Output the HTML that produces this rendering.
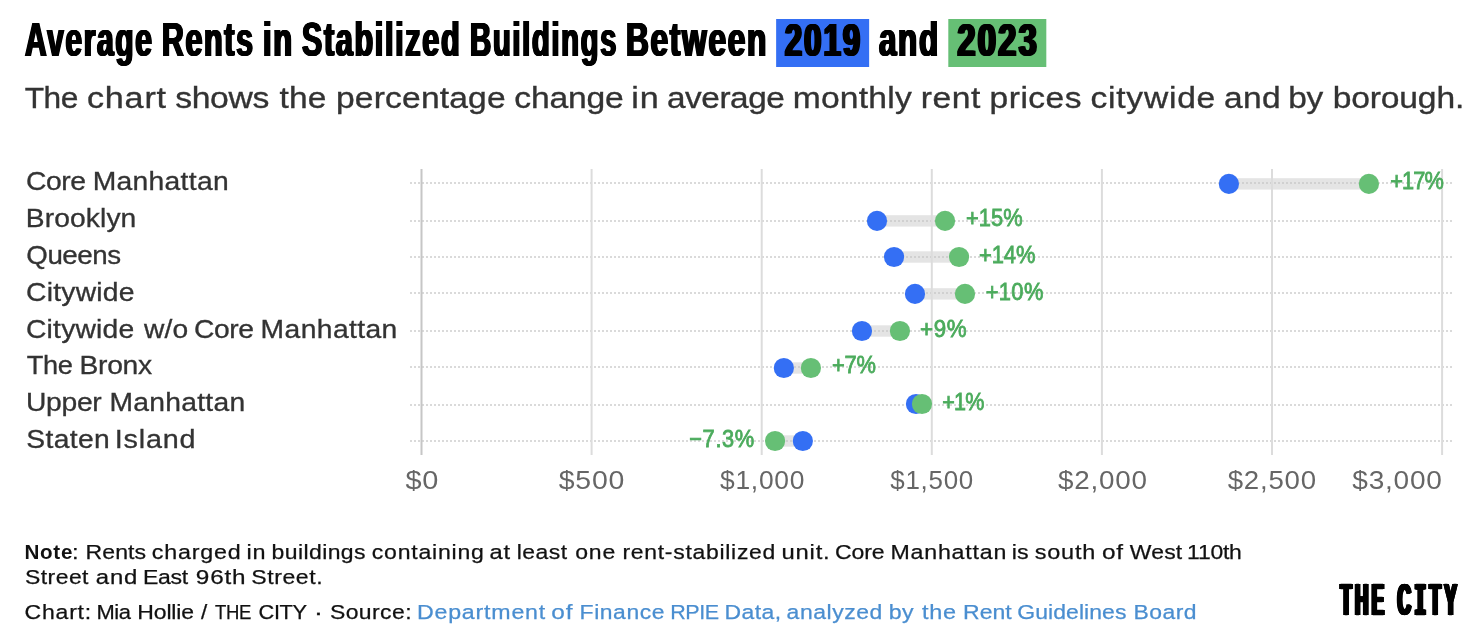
<!DOCTYPE html>
<html lang="en">
<head>
<meta charset="utf-8">
<title>Average Rents in Stabilized Buildings Between 2019 and 2023</title>
<style>
html,body{margin:0;padding:0;background:#fff;overflow:hidden}
body{width:1482px;height:632px}
.page{position:relative;width:1482px;height:632px;overflow:hidden;background:#fff;font-family:'Liberation Sans', sans-serif}
h1,p,div,ul,li{margin:0;padding:0;font-weight:normal;list-style:none}
.ln{position:absolute;left:0;top:0;white-space:nowrap}
.w{display:inline-block;transform-origin:0 0;font-weight:inherit;text-decoration:none}
b.w{font-weight:normal}
b.nb{font-weight:bold}
.hl{display:inline-block;vertical-align:top;transform-origin:0 0;color:inherit}
.b19{background:#346ff4}
.b23{background:#66bf75}
.plot{position:absolute;left:0;top:0}
.slab{font-family:'Liberation Mono',monospace;font-size:1.045em}
a.src{text-decoration:none;color:#4a8ed0}
.t{font-family:'Liberation Sans', sans-serif;font-weight:bold;font-size:48px;line-height:48px;text-shadow:-0.75px 0 0 #000,0.75px 0 0 #000,-1.5px 0 0 #000,1.5px 0 0 #000;color:#000}
.td{font-family:'Liberation Sans', sans-serif;font-weight:bold;font-size:46px;line-height:48px;text-shadow:-1px 0 0 #000,1px 0 0 #000,-2px 0 0 #000,2px 0 0 #000;color:#000}
.s{font-family:'Liberation Sans', sans-serif;font-size:30px;line-height:30px;-webkit-text-stroke:0.35px;color:#333333}
.l{font-family:'Liberation Sans', sans-serif;font-size:25px;line-height:25px;-webkit-text-stroke:0.3px;color:#333333}
.v{font-family:'Liberation Sans', sans-serif;font-size:23.8px;line-height:25px;-webkit-text-stroke:0.8px;color:#4bab5c}
.x{font-family:'Liberation Sans', sans-serif;font-size:25px;line-height:25px;color:#666666}
.n{font-family:'Liberation Sans', sans-serif;font-size:20.5px;line-height:20.5px;-webkit-text-stroke:0.25px;color:#111111}
.nb{font-family:'Liberation Sans', sans-serif;font-weight:bold;font-size:20.5px;line-height:20.5px;-webkit-text-stroke:0;color:#111111}
.k{font-family:'Liberation Sans', sans-serif;font-size:20.5px;line-height:20.5px;-webkit-text-stroke:0.25px;color:#4a8ed0}
.g{font-family:'Liberation Sans', sans-serif;font-weight:bold;font-size:44px;line-height:44px;text-shadow:-1px 0 0 #000,1px 0 0 #000,-2px 0 0 #000,2px 0 0 #000,-3px 0 0 #000,3px 0 0 #000,-3.5px 0 0 #000,3.5px 0 0 #000;-webkit-text-stroke:0.5px;color:#000}
</style>
</head>
<body>
<main class="page">
<h1 class="ln t"><span class="w t" style="letter-spacing:2.6px;transform:matrix(0.6244,0,0,1,24.96,16.00)">Average</span> <span class="w t" style="letter-spacing:2.6px;transform:matrix(0.6339,0,0,1,-57.13,16.00)">Rents</span> <span class="w t" style="letter-spacing:2.6px;transform:matrix(0.6429,0,0,1,-116.05,16.00)">in</span> <span class="w t" style="letter-spacing:2.6px;transform:matrix(0.6376,0,0,1,-138.12,16.00)">Stabilized</span> <span class="w t" style="letter-spacing:2.6px;transform:matrix(0.6116,0,0,1,-233.99,16.00)">Buildings</span> <span class="w t" style="letter-spacing:2.6px;transform:matrix(0.6598,0,0,1,-333.08,16.00)">Between</span> <mark class="hl b19" style="width:93px;height:48px;transform:translate(-411.86px,19.00px)"><span class="w td" style="letter-spacing:3.2px;transform:matrix(0.6732,0,0,1,8.64,-3.00)">2019</span></mark> <span class="w t" style="letter-spacing:2.6px;transform:matrix(0.6546,0,0,1,-415.10,16.00)">and</span> <mark class="hl b23" style="width:98px;height:48px;transform:translate(-452.69px,19.00px)"><span class="w td" style="letter-spacing:3.2px;transform:matrix(0.7095,0,0,1,9.05,-3.00)">2023</span></mark></h1>
<p class="ln s"><span class="w s" style="letter-spacing:-0.4px;transform:matrix(1.0558,0,0,1,24.67,83.00)">The</span> <span class="w s" style="letter-spacing:0.7px;transform:matrix(1.1387,0,0,1,27.92,83.00)">chart</span> <span class="w s" style="letter-spacing:-0.27px;transform:matrix(1.1222,0,0,1,38.17,83.00)">shows</span> <span class="w s" style="letter-spacing:0.19px;transform:matrix(1.1166,0,0,1,50.50,83.00)">the</span> <span class="w s" style="letter-spacing:0.16px;transform:matrix(1.1193,0,0,1,55.99,83.00)">percentage</span> <span class="w s" style="letter-spacing:-0.18px;transform:matrix(1.1213,0,0,1,74.37,83.00)">change</span> <span class="w s" style="letter-spacing:0.7px;transform:matrix(1.1366,0,0,1,85.31,83.00)">in</span> <span class="w s" style="letter-spacing:-0.4px;transform:matrix(1.1113,0,0,1,88.00,83.00)">average</span> <span class="w s" style="letter-spacing:0.21px;transform:matrix(1.1198,0,0,1,99.68,83.00)">monthly</span> <span class="w s" style="letter-spacing:0.51px;transform:matrix(1.1204,0,0,1,112.82,83.00)">rent</span> <span class="w s" style="letter-spacing:0.46px;transform:matrix(1.1172,0,0,1,119.55,83.00)">prices</span> <span class="w s" style="letter-spacing:0.7px;transform:matrix(1.1187,0,0,1,129.44,83.00)">citywide</span> <span class="w s" style="letter-spacing:0.3px;transform:matrix(1.1167,0,0,1,141.99,83.00)">and</span> <span class="w s" style="letter-spacing:-0.18px;transform:matrix(1.1133,0,0,1,147.15,83.00)">by</span> <span class="w s" style="letter-spacing:-0.17px;transform:matrix(1.1204,0,0,1,151.86,83.00)">borough.</span></p>
<div class="chart">
<svg class="plot" width="1482" height="632" viewBox="0 0 1482 632" aria-hidden="true">
<g class="bars" fill="#e4e4e4">
<rect x="1228.9" y="178.2" width="140.0" height="11.4"/>
<rect x="877.0" y="215.2" width="68.0" height="11.4"/>
<rect x="894.0" y="251.3" width="65.0" height="11.4"/>
<rect x="915.0" y="288.2" width="50.0" height="11.4"/>
<rect x="862.0" y="325.3" width="38.0" height="11.4"/>
<rect x="783.9" y="362.3" width="27.0" height="11.4"/>
<rect x="916.0" y="398.3" width="6.0" height="11.4"/>
<rect x="775.1" y="435.3" width="27.8" height="11.4"/>
</g>
<g class="hgrid" stroke="#c4c4c4" stroke-opacity="0.63" stroke-width="2" stroke-dasharray="2 2" shape-rendering="crispEdges">
<line x1="410" x2="1452" y1="183" y2="183"/>
<line x1="410" x2="1452" y1="221" y2="221"/>
<line x1="410" x2="1452" y1="257" y2="257"/>
<line x1="410" x2="1452" y1="293" y2="293"/>
<line x1="410" x2="1452" y1="331" y2="331"/>
<line x1="410" x2="1452" y1="367" y2="367"/>
<line x1="410" x2="1452" y1="405" y2="405"/>
<line x1="410" x2="1452" y1="441" y2="441"/>
</g>
<g class="vgrid" fill="#dcdcdc">
<rect x="420.50" y="169" width="2" height="286" fill="#c6c6c6"/>
<rect x="590.60" y="169" width="2" height="286"/>
<rect x="760.70" y="169" width="2" height="286"/>
<rect x="930.80" y="169" width="2" height="286"/>
<rect x="1100.90" y="169" width="2" height="286"/>
<rect x="1271.00" y="169" width="2" height="286"/>
<rect x="1441.10" y="169" width="2" height="286"/>
</g>
<g class="dots">
<circle cx="1228.90" cy="183.9" r="10.1" fill="#346ff4"/><circle cx="1368.90" cy="183.9" r="10.1" fill="#66bf75"/>
<circle cx="877.00" cy="220.9" r="10.1" fill="#346ff4"/><circle cx="945.05" cy="220.9" r="10.1" fill="#66bf75"/>
<circle cx="894.05" cy="257.0" r="10.1" fill="#346ff4"/><circle cx="959.06" cy="257.0" r="10.1" fill="#66bf75"/>
<circle cx="915.00" cy="293.9" r="10.1" fill="#346ff4"/><circle cx="965.00" cy="293.9" r="10.1" fill="#66bf75"/>
<circle cx="861.96" cy="331.0" r="10.1" fill="#346ff4"/><circle cx="899.94" cy="331.0" r="10.1" fill="#66bf75"/>
<circle cx="783.86" cy="368.0" r="10.1" fill="#346ff4"/><circle cx="810.90" cy="368.0" r="10.1" fill="#66bf75"/>
<circle cx="916.00" cy="404.0" r="10.1" fill="#346ff4"/><circle cx="922.00" cy="404.0" r="10.1" fill="#66bf75"/>
<circle cx="802.85" cy="441.0" r="10.1" fill="#346ff4"/><circle cx="775.07" cy="441.0" r="10.1" fill="#66bf75"/>
</g>
</svg>
<ul class="rows">
<li class="ln l"><span class="w l" style="letter-spacing:-0.4px;transform:matrix(1.1310,0,0,1,25.99,169.00)">Core</span> <span class="w l" style="letter-spacing:0.26px;transform:matrix(1.1306,0,0,1,32.69,169.00)">Manhattan</span> <b class="w v" style="letter-spacing:-0.9px;transform:matrix(0.9126,0,0,1,1203.23,168.00)">+17%</b></li>
<li class="ln l"><span class="w l" style="letter-spacing:0.07px;transform:matrix(1.1300,0,0,1,25.84,206.00)">Brooklyn</span> <b class="w v" style="letter-spacing:0.1px;transform:matrix(0.9169,0,0,1,861.03,205.00)">+15%</b></li>
<li class="ln l"><span class="w l" style="letter-spacing:-0.4px;transform:matrix(1.1081,0,0,1,26.29,243.00)">Queens</span> <b class="w v" style="letter-spacing:-0.08px;transform:matrix(0.9200,0,0,1,886.98,242.00)">+14%</b></li>
<li class="ln l"><span class="w l" style="letter-spacing:0.22px;transform:matrix(1.1307,0,0,1,25.99,280.00)">Citywide</span> <b class="w v" style="letter-spacing:0.39px;transform:matrix(0.9187,0,0,1,882.72,279.00)">+10%</b></li>
<li class="ln l"><span class="w l" style="letter-spacing:0.18px;transform:matrix(1.1305,0,0,1,25.99,317.00)">Citywide</span> <span class="w l" style="letter-spacing:0.21px;transform:matrix(1.1277,0,0,1,40.91,317.00)">w/o</span> <span class="w l" style="letter-spacing:-0.4px;transform:matrix(1.1291,0,0,1,45.01,317.00)">Core</span> <span class="w l" style="letter-spacing:0.35px;transform:matrix(1.1302,0,0,1,51.62,317.00)">Manhattan</span> <b class="w v" style="letter-spacing:0.7px;transform:matrix(0.9392,0,0,1,583.07,316.00)">+9%</b></li>
<li class="ln l"><span class="w l" style="letter-spacing:-0.4px;transform:matrix(1.0871,0,0,1,26.86,353.00)">The</span> <span class="w l" style="letter-spacing:-0.3px;transform:matrix(1.1306,0,0,1,30.59,353.00)">Bronx</span> <b class="w v" style="letter-spacing:-0.18px;transform:matrix(0.9176,0,0,1,711.90,352.00)">+7%</b></li>
<li class="ln l"><span class="w l" style="letter-spacing:-0.26px;transform:matrix(1.1292,0,0,1,26.02,390.00)">Upper</span> <span class="w l" style="letter-spacing:0.25px;transform:matrix(1.1298,0,0,1,35.39,390.00)">Manhattan</span> <b class="w v" style="letter-spacing:-0.9px;transform:matrix(0.9039,0,0,1,741.23,389.00)">+1%</b></li>
<li class="ln l"><span class="w l" style="letter-spacing:0.33px;transform:matrix(1.1287,0,0,1,26.27,427.00)">Staten</span> <span class="w l" style="letter-spacing:0.7px;transform:matrix(1.1504,0,0,1,33.79,427.00)">Island</span> <b class="w v" style="letter-spacing:0.67px;transform:matrix(0.9190,0,0,1,530.22,426.00)">−7.3%</b></li>
</ul>
<div class="ln x"><span class="w x" style="letter-spacing:0.7px;transform:matrix(1.1560,0,0,1,405.41,468.00)">$0</span> <span class="w x" style="letter-spacing:0.7px;transform:matrix(1.1381,0,0,1,522.74,468.00)">$500</span> <span class="w x" style="letter-spacing:0.7px;transform:matrix(1.0552,0,0,1,617.99,468.00)">$1,000</span> <span class="w x" style="letter-spacing:0.7px;transform:matrix(1.0375,0,0,1,701.27,468.00)">$1,500</span> <span class="w x" style="letter-spacing:0.7px;transform:matrix(1.1124,0,0,1,780.93,468.00)">$2,000</span> <span class="w x" style="letter-spacing:0.7px;transform:matrix(1.1048,0,0,1,863.70,468.00)">$2,500</span> <span class="w x" style="letter-spacing:0.7px;transform:matrix(1.1213,0,0,1,900.27,468.00)">$3,000</span></div>
</div>
<p class="ln n"><b class="w nb" style="letter-spacing:0.7px;transform:matrix(1.0055,0,0,1,24.44,542.00)">Note</b><span class="w n" style="transform:matrix(1.1556,0,0,1,23.92,542.00)">:</span> <span class="w n" style="letter-spacing:0.05px;transform:matrix(1.1243,0,0,1,25.55,542.00)">Rents</span> <span class="w n" style="letter-spacing:0.7px;transform:matrix(1.1344,0,0,1,32.77,542.00)">charged</span> <span class="w n" style="letter-spacing:0.7px;transform:matrix(1.1439,0,0,1,42.40,542.00)">in</span> <span class="w n" style="letter-spacing:0.38px;transform:matrix(1.1207,0,0,1,44.47,542.00)">buildings</span> <span class="w n" style="letter-spacing:0.7px;transform:matrix(1.1243,0,0,1,54.78,542.00)">containing</span> <span class="w n" style="letter-spacing:0.7px;transform:matrix(1.1588,0,0,1,66.38,542.00)">at</span> <span class="w n" style="letter-spacing:0.48px;transform:matrix(1.1182,0,0,1,69.65,542.00)">least</span> <span class="w n" style="letter-spacing:0.68px;transform:matrix(1.1235,0,0,1,76.30,542.00)">one</span> <span class="w n" style="letter-spacing:0.65px;transform:matrix(1.1188,0,0,1,81.39,542.00)">rent-stabilized</span> <span class="w n" style="letter-spacing:0.7px;transform:matrix(1.1610,0,0,1,97.46,542.00)">unit.</span> <span class="w n" style="letter-spacing:-0.11px;transform:matrix(1.1243,0,0,1,102.93,542.00)">Core</span> <span class="w n" style="letter-spacing:0.7px;transform:matrix(1.1308,0,0,1,108.46,542.00)">Manhattan</span> <span class="w n" style="letter-spacing:0.13px;transform:matrix(1.1308,0,0,1,121.65,542.00)">is</span> <span class="w n" style="letter-spacing:0.7px;transform:matrix(1.1434,0,0,1,123.71,542.00)">south</span> <span class="w n" style="letter-spacing:0.7px;transform:matrix(1.1884,0,0,1,130.93,542.00)">of</span> <span class="w n" style="letter-spacing:0.15px;transform:matrix(1.1187,0,0,1,134.82,542.00)">West</span> <span class="w n" style="letter-spacing:-0.21px;transform:matrix(1.1178,0,0,1,140.10,542.00)">110th</span> <span class="w n" style="letter-spacing:0.4px;transform:matrix(1.1196,0,0,1,-1077.00,567.00)">Street</span> <span class="w n" style="letter-spacing:0.7px;transform:matrix(1.1672,0,0,1,-1069.13,567.00)">and</span> <span class="w n" style="letter-spacing:-0.22px;transform:matrix(1.1226,0,0,1,-1064.06,567.00)">East</span> <span class="w n" style="letter-spacing:0.7px;transform:matrix(1.1850,0,0,1,-1057.20,567.00)">96th</span> <span class="w n" style="letter-spacing:0.53px;transform:matrix(1.1230,0,0,1,-1049.76,567.00)">Street.</span></p>
<p class="ln n"><span class="w n" style="letter-spacing:0.7px;transform:matrix(1.1221,0,0,1,24.58,602.00)">Chart:</span> <span class="w n" style="letter-spacing:-0.4px;transform:matrix(1.0699,0,0,1,30.46,602.00)">Mia</span> <span class="w n" style="letter-spacing:-0.14px;transform:matrix(1.1212,0,0,1,34.34,602.00)">Hollie</span> <span class="w n" style="transform:matrix(1.0957,0,0,1,41.98,602.00)">/</span> <span class="w n" style="letter-spacing:-0.4px;transform:matrix(0.9045,0,0,1,43.95,602.00)">THE</span> <span class="w n" style="letter-spacing:-0.4px;transform:matrix(1.0621,0,0,1,42.59,602.00)">CITY</span> <span class="w n" style="transform:matrix(1.3778,0,0,1,46.64,602.00)">·</span> <span class="w n" style="letter-spacing:0.37px;transform:matrix(1.1191,0,0,1,49.97,602.00)">Source:</span> <a class="src"><span class="w k" style="letter-spacing:0.7px;transform:matrix(1.1311,0,0,1,57.96,602.00)">Department</span> <span class="w k" style="letter-spacing:0.7px;transform:matrix(1.1884,0,0,1,73.26,602.00)">of</span> <span class="w k" style="letter-spacing:0.51px;transform:matrix(1.1173,0,0,1,76.57,602.00)">Finance</span> <span class="w k" style="letter-spacing:-0.4px;transform:matrix(1.0472,0,0,1,85.25,602.00)">RPIE</span> <span class="w k" style="letter-spacing:0.37px;transform:matrix(1.1196,0,0,1,87.59,602.00)">Data,</span> <span class="w k" style="letter-spacing:0.5px;transform:matrix(1.1198,0,0,1,93.57,602.00)">analyzed</span> <span class="w k" style="letter-spacing:0.39px;transform:matrix(1.1277,0,0,1,103.73,602.00)">by</span> <span class="w k" style="letter-spacing:0.7px;transform:matrix(1.1443,0,0,1,108.92,602.00)">the</span> <span class="w k" style="letter-spacing:-0.05px;transform:matrix(1.1229,0,0,1,113.11,602.00)">Rent</span> <span class="w k" style="letter-spacing:0.06px;transform:matrix(1.1206,0,0,1,119.26,602.00)">Guidelines</span> <span class="w k" style="letter-spacing:0.42px;transform:matrix(1.1181,0,0,1,131.53,602.00)">Board</span></a></p>
<div class="ln g"><span class="w g" style="letter-spacing:8px;transform:matrix(0.4193,0,0,1,1340.46,578.00)">THE</span> <span class="w g" style="letter-spacing:8px;transform:matrix(0.4250,0,0,1,1273.51,578.00)">C<span class="slab">I</span>TY</span></div>
</main>
</body>
</html>
